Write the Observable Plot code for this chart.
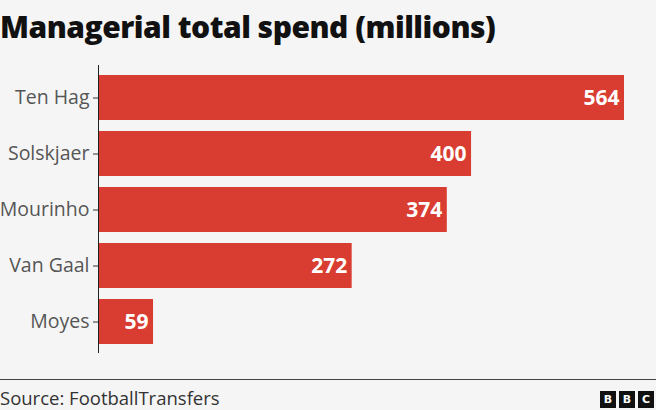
<!DOCTYPE html>
<html>
<head>
<meta charset="utf-8">
<script src="https://cdn.jsdelivr.net/npm/d3@7"></script>
<script src="https://cdn.jsdelivr.net/npm/@observablehq/plot@0.6"></script>
<style>
  html, body { margin: 0; padding: 0; background: #f5f5f5; }
  body { width: 656px; height: 410px; overflow: hidden; position: relative; font-family: "Open Sans", sans-serif; }
  #title { position: absolute; left: 0; top: 6px; font-family: "Open Sans", sans-serif; font-weight: 800; font-size: 30px; color: #111; letter-spacing: -0.5px; white-space: nowrap; }
  #chart { position: absolute; left: 0; top: 60px; }
  #rule { position: absolute; left: 0; top: 379px; width: 656px; height: 1px; background: #444; }
  #source { position: absolute; left: 0; top: 385px; font-size: 18.5px; color: #333; }
  #logo { position: absolute; right: 2px; top: 391px; display: flex; gap: 3px; }
  #logo span { width: 16px; height: 17px; background: #111; color: #fff; font: bold 11px "DejaVu Sans", sans-serif; display: flex; align-items: center; justify-content: center; }
</style>
</head>
<body>
<div id="title">Managerial total spend (millions)</div>
<div id="chart"></div>
<div id="rule"></div>
<div id="source">Source: FootballTransfers</div>
<div id="logo"><span>B</span><span>B</span><span>C</span></div>
<script>
const managers = ["Ten Hag", "Solskjaer", "Mourinho", "Van Gaal", "Moyes"];
const spend = [564, 400, 374, 272, 59];

const data = managers.map((m, i) => ({manager: m, spend: spend[i]}));

const chart = Plot.plot({
  width: 656,
  height: 298,
  marginLeft: 98,
  marginRight: 32,
  marginTop: 5,
  marginBottom: 5,
  style: {background: "transparent", fontFamily: "Open Sans, sans-serif"},
  x: {domain: [0, 564], axis: null},
  y: {domain: managers, paddingInner: 0.2, paddingOuter: 0.15, label: null},
  marks: [
    Plot.barX(data, {x: "spend", y: "manager", fill: "#d93c30"}),
    Plot.text(data, {x: "spend", y: "manager", text: d => String(d.spend), textAnchor: "end", dx: -5, fill: "white", fontWeight: "bold", fontSize: 21}),
    Plot.ruleX([0], {stroke: "#222", strokeWidth: 1}),
    Plot.axisY({tickSize: 5, tickPadding: 4, fontSize: 19.5, color: "#555", stroke: "#333", label: null})
  ]
});
document.getElementById("chart").appendChild(chart);
</script>
</body>
</html>
